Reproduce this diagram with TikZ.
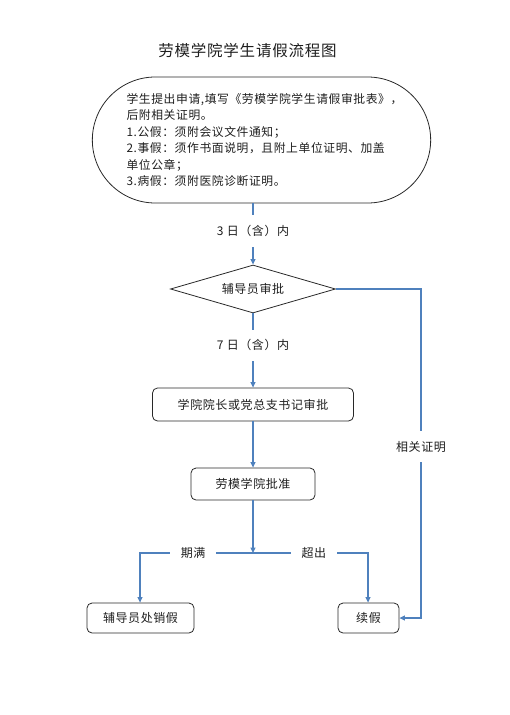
\documentclass[tikz,border=0pt]{standalone}
\usepackage{fontspec}
\newfontfamily\cjk[LetterSpace=5]{Noto Sans CJK SC}
\usetikzlibrary{shapes.geometric,shapes.misc,arrows.meta}
\definecolor{connblue}{RGB}{79,129,189}
\definecolor{edgegray}{RGB}{40,40,40}
\definecolor{txt}{RGB}{30,30,30}
\begin{document}
\begin{tikzpicture}[x=1pt,y=-1pt,
  font=\cjk\fontsize{12}{14}\selectfont,
  conn/.style={draw=connblue, line width=1.2pt, -{Triangle[length=5.5pt,width=5pt]}},
  box/.style={draw=edgegray, line width=0.8pt, rounded corners=5pt, inner sep=0pt, text=txt},
  lbl/.style={fill=white, inner xsep=11pt, inner ysep=10pt, text=txt}]
\useasboundingbox (0,0) rectangle (509,715);

\node[text=txt] (title) at (247.5,51) {\fontsize{15.5}{18}\selectfont 劳模学院学生请假流程图};

\node[rounded rectangle, draw=edgegray, line width=0.8pt, minimum width=345pt,
      minimum height=126pt, align=left, text=txt,
      font=\cjk\fontsize{11.8}{16.5}\selectfont] (req) at (261.5,140)
  {\hspace*{6pt}学生提出申请,填写《劳模学院学生请假审批表》，\\
   \hspace*{6pt}后附相关证明。\\
   \hspace*{6pt}1.公假：须附会议文件通知；\\
   \hspace*{6pt}2.事假：须作书面说明，且附上单位证明、加盖\\
   \hspace*{6pt}单位公章；\\
   \hspace*{6pt}3.病假：须附医院诊断证明。};

\node[diamond, draw=edgegray, line width=0.8pt, aspect=3.4, minimum width=165pt,
      minimum height=48pt, inner sep=0pt, text=txt] (dia) at (253,289) {辅导员审批};

\node[box, minimum width=201pt, minimum height=33pt] (dean) at (253,404.5) {学院院长或党总支书记审批};
\node[box, minimum width=124pt, minimum height=32pt] (appr) at (253,484) {劳模学院批准};
\node[box, minimum width=107pt, minimum height=30pt] (cancel) at (140.5,618) {辅导员处销假};
\node[box, minimum width=61pt, minimum height=30pt] (ext) at (368.5,618) {续假};

\coordinate (rc) at (421,289);
\coordinate (jn) at (253,553);
\coordinate (jl) at (140,553);
\coordinate (jr) at (368,553);

\draw[conn] (dia.north |- req.south) -- node[lbl, pos=0.45] {3 日（含）内} (dia.north);
\draw[conn] (dia.south) -- node[lbl, pos=0.43] {7 日（含）内} (dean.north);
\draw[conn] (dia.east) -- (rc) -- node[lbl, pos=0.48] {相关证明} (rc |- ext.east) -- (ext.east);
\draw[conn] (dean.south) -- (appr.north);
\draw[conn] (appr.south) -- (jn);
\draw[conn] (jn) -- node[lbl, pos=0.53] {期满} (jl) -- (jl |- cancel.north);
\draw[conn] (jn) -- node[lbl, pos=0.53] {超出} (jr) -- (jr |- ext.north);
\end{tikzpicture}
\end{document}
